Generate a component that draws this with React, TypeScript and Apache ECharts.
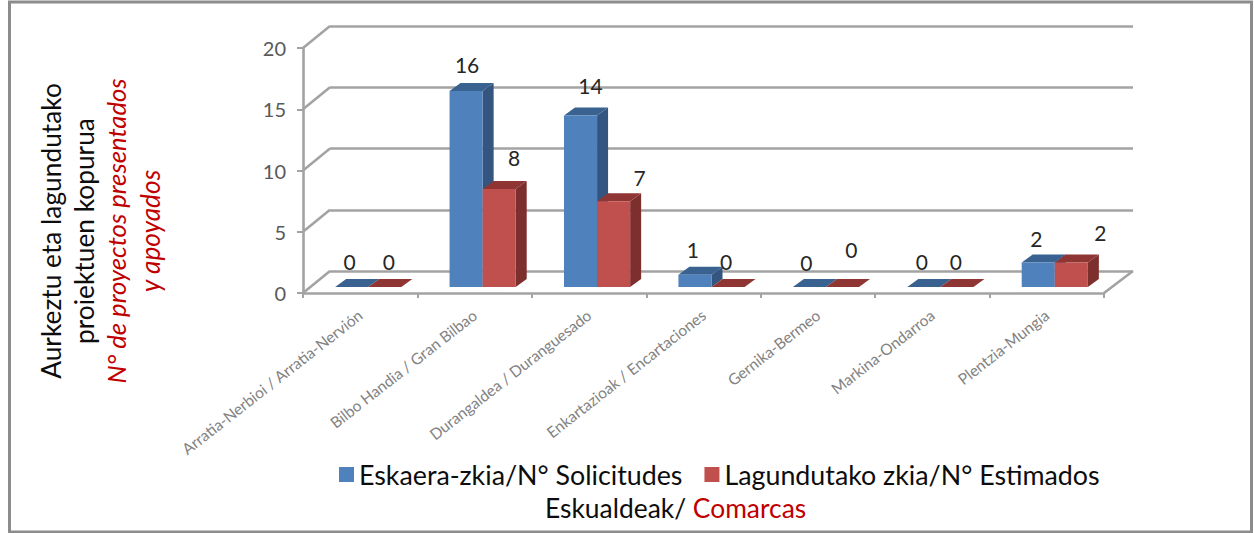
import React, { useEffect, useRef } from "react";
import * as echarts from "echarts";

const categories = [
  "Arratia-Nerbioi / Arratia-Nervión",
  "Bilbo Handia / Gran Bilbao",
  "Durangaldea / Duranguesado",
  "Enkartazioak / Encartaciones",
  "Gernika-Bermeo",
  "Markina-Ondarroa",
  "Plentzia-Mungia",
];
const solicitudes = [0, 16, 14, 1, 0, 0, 2];
const estimados = [0, 8, 7, 0, 0, 0, 2];
const yTicks = [0, 5, 10, 15, 20];
const seriesNames = ["Eskaera-zkia/N° Solicitudes", "Lagundutako zkia/N° Estimados"];

// Small hand-read label nudges relative to each bar's top (the original's labels were moved by hand).
const nudgeBlue: [number, number][] = [[-2, -26], [1, -27], [10, -30], [-2, -25], [-3, -25], [-2, -26], [-2, -24]];
const nudgeRed: [number, number][] = [[4, -26], [15, -32], [26, -24], [-2, -26], [9, -38], [-1, -26], [29, -30]];

const GRID = { left: 303, top: 48, width: 801, height: 245 };
const WALL_DX = 27;
const WALL_DY = 22;
const DEPTH_DX = 11;
const DEPTH_DY = 8;
const BAR_DX = 8;
const BAR_DY = 6;
const GRIDLINE = "#a3a3a3";
const LINE_W = 2.6;
const TEXT_FONT = "Lato, Carlito, sans-serif";

function barSeries(name: string, values: number[], side: number, front: string, top: string, dark: string, nudge: [number, number][]) {
  return {
    type: "custom",
    name,
    xAxisIndex: 0,
    yAxisIndex: 0,
    z: 5 + side,
    clip: false,
    itemStyle: { color: front },
    data: values.map((v, i) => [i, v]),
    renderItem: (_p: any, api: any) => {
      const i = api.value(0);
      const v = api.value(1);
      const band = api.size([1, 0])[0];
      const w = band * 0.289;
      const c = api.coord([i, v]);
      const b = api.coord([i, 0]);
      const x0 = c[0] + BAR_DX + (side === 0 ? -w : 0);
      const x1 = x0 + w;
      const yTop = c[1] - BAR_DY;
      const yBot = b[1] - BAR_DY;
      const d = DEPTH_DX;
      const e = DEPTH_DY;
      const children: any[] = [
        { type: "polygon", shape: { points: [[x1, yTop], [x1 + d, yTop - e], [x1 + d, yBot - e], [x1, yBot]] }, style: { fill: dark } },
        { type: "polygon", shape: { points: [[x0, yTop], [x0 + d, yTop - e], [x1 + d, yTop - e], [x1, yTop]] }, style: { fill: top } },
        { type: "rect", shape: { x: x0, y: yTop, width: w, height: yBot - yTop }, style: { fill: front } },
        {
          type: "text",
          x: x0 + w / 2 + nudge[i][0],
          y: yTop + nudge[i][1],
          style: { text: String(v), fill: "#262626", font: `21px ${TEXT_FONT}`, textAlign: "center", textVerticalAlign: "middle" },
        },
      ];
      return { type: "group", children };
    },
  };
}

const wallSeries = {
  type: "custom",
  xAxisIndex: 0,
  yAxisIndex: 0,
  z: 1,
  silent: true,
  clip: false,
  data: yTicks.map((t) => [0, t]),
  renderItem: (p: any, api: any) => {
    const t = api.value(1);
    const y = api.coord([0, t])[1];
    const x = p.coordSys.x;
    const lineStyle = { stroke: GRIDLINE, lineWidth: LINE_W };
    const children: any[] = [
      { type: "line", shape: { x1: x, y1: y, x2: x + WALL_DX, y2: y - WALL_DY }, style: lineStyle },
    ];
    if (t === 0) {
      const xr = x + p.coordSys.width;
      children.push({ type: "line", shape: { x1: xr, y1: y, x2: xr + WALL_DX + 2, y2: y - WALL_DY }, style: lineStyle });
    }
    return { type: "group", children };
  },
};

const axisTitleLines = [
  { text: "Aurkeztu eta lagundutako", x: 51, color: "#0d0d0d", style: "normal", size: 26.3 },
  { text: "proiektuen kopurua", x: 84, color: "#0d0d0d", style: "normal", size: 26.3 },
  { text: "N° de proyectos presentados", x: 116, color: "#c00000", style: "italic", size: 25.7 },
  { text: "y apoyados", x: 150, color: "#c00000", style: "italic", size: 26.3 },
];

export default function App() {
  const ref = useRef<HTMLDivElement>(null);
  useEffect(() => {
    document.body.style.margin = "0";
    document.body.style.background = "#fff";
    const chart = echarts.init(ref.current!, undefined, { renderer: "svg" });
    chart.setOption({
      animation: false,
      backgroundColor: "#ffffff",
      grid: [
        GRID,
        { left: GRID.left + WALL_DX, top: GRID.top - WALL_DY, width: GRID.width + 2, height: GRID.height },
      ],
      xAxis: [
        {
          type: "category",
          gridIndex: 0,
          data: categories,
          axisLine: { show: true, lineStyle: { color: GRIDLINE, width: LINE_W } },
          axisTick: { show: true, length: 5, lineStyle: { color: GRIDLINE, width: 2 } },
          axisLabel: {
            interval: 0,
            rotate: 38,
            margin: 20,
            color: "#828282",
            fontFamily: TEXT_FONT,
            fontSize: 15.5,
            verticalAlign: "middle",
          },
        },
        { type: "category", gridIndex: 1, data: categories, show: false },
      ],
      yAxis: [
        {
          type: "value",
          gridIndex: 0,
          min: 0,
          max: 20,
          interval: 5,
          splitLine: { show: false },
          axisLine: { show: true, lineStyle: { color: GRIDLINE, width: LINE_W } },
          axisTick: { show: true, length: 6, lineStyle: { color: GRIDLINE, width: 2 } },
          axisLabel: { margin: 17, color: "#595959", fontFamily: TEXT_FONT, fontSize: 20 },
        },
        {
          type: "value",
          gridIndex: 1,
          min: 0,
          max: 20,
          interval: 5,
          axisLine: { show: false },
          axisTick: { show: false },
          axisLabel: { show: false },
          splitLine: { show: true, lineStyle: { color: GRIDLINE, width: LINE_W } },
        },
      ],
      legend: {
        left: 334,
        top: 456,
        itemWidth: 15,
        itemHeight: 15,
        itemGap: 22,
        textStyle: { fontFamily: TEXT_FONT, fontSize: 26.8, color: "#0d0d0d" },
        data: [
          { name: seriesNames[0], icon: "rect", itemStyle: { color: "#4f81bd" } },
          { name: seriesNames[1], icon: "rect", itemStyle: { color: "#c0504d" } },
        ],
      },
      graphic: [
        {
          type: "rect",
          silent: true,
          shape: { x: 9.5, y: 2, width: 1242, height: 530 },
          style: { fill: "none", stroke: "#8c8c8c", lineWidth: 3 },
        },
        ...axisTitleLines.map((l) => ({
          type: "text",
          x: l.x,
          y: 231,
          rotation: Math.PI / 2,
          style: {
            text: l.text,
            fill: l.color,
            font: `${l.style} ${l.size}px ${TEXT_FONT}`,
            textAlign: "center",
            textVerticalAlign: "middle",
          },
        })),
        {
          type: "text",
          x: 545,
          y: 508,
          style: {
            text: "{a|Eskualdeak/ }{b|Comarcas}",
            textVerticalAlign: "middle",
            rich: {
              a: { fill: "#0d0d0d", font: `26.4px ${TEXT_FONT}` },
              b: { fill: "#c00000", font: `26.4px ${TEXT_FONT}` },
            },
          },
        },
      ],
      series: [
        wallSeries,
        barSeries(seriesNames[0], solicitudes, 0, "#4f81bd", "#3a6291", "#34557f", nudgeBlue),
        barSeries(seriesNames[1], estimados, 1, "#c0504d", "#8f3634", "#7c2f2d", nudgeRed),
      ],
    });
    return () => chart.dispose();
  }, []);
  return <div ref={ref} style={{ position: "absolute", left: 0, top: 0, width: 1254, height: 533 }} />;
}
